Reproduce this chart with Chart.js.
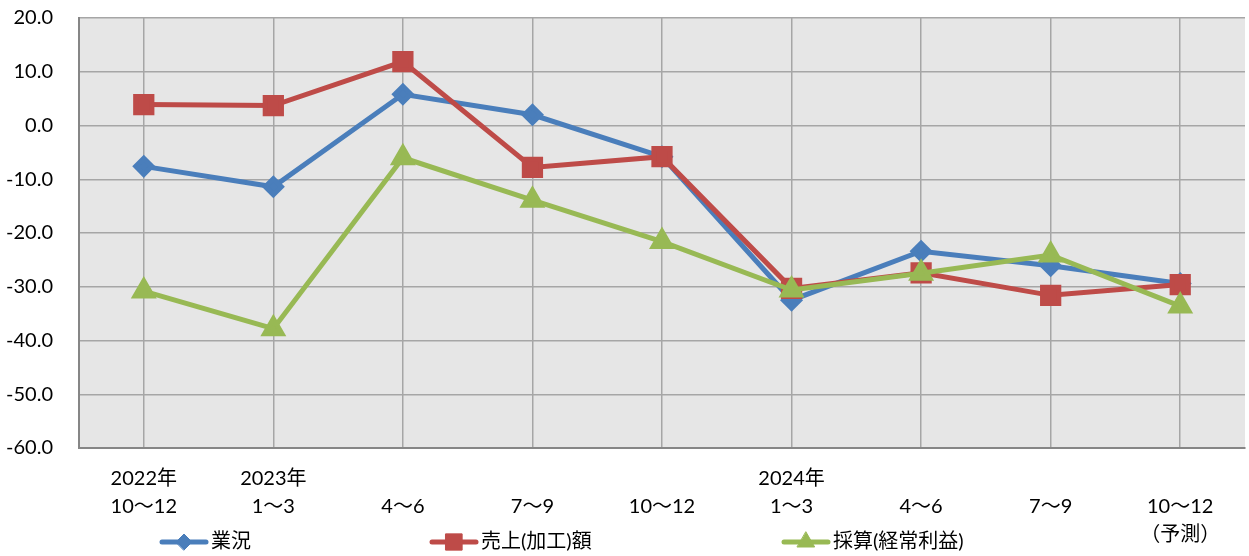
<!DOCTYPE html>
<html>
<head>
<meta charset="utf-8">
<script src="https://cdn.jsdelivr.net/npm/chart.js@4"></script>
<style>
  html, body { margin: 0; padding: 0; background: #fff; }
</style>
</head>
<body>
<canvas id="grafica" width="1249" height="556"></canvas>
<script>
// categorias del eje x (varias lineas por etiqueta)
const categorias = [
  ["2022年", "10～12"],
  ["2023年", "1～3"],
  ["", "4～6"],
  ["", "7～9"],
  ["", "10～12"],
  ["2024年", "1～3"],
  ["", "4～6"],
  ["", "7～9"],
  ["", "10～12", "（予測）"]
];
const nombresSeries = ["業況", "売上(加工)額", "採算(経常利益)"];
const gyokyo = [-7.6, -11.4, 5.8, 2.0, -5.8, -32.5, -23.4, -26.1, -29.4];
const uriage = [3.9, 3.7, 11.9, -7.8, -5.8, -30.3, -27.4, -31.6, -29.6];
const saisan = [-30.8, -37.8, -6.0, -13.9, -21.6, -30.6, -27.5, -24.1, -33.6];
const ejeY = { min: -60, max: 20, paso: 10 };

const fuente = "Lato, 'Noto Sans CJK JP', sans-serif";

// fondo gris del area del grafico
const fondoPlot = {
  id: "fondoPlot",
  beforeDraw(chart) {
    const { ctx, chartArea: a } = chart;
    ctx.save();
    ctx.fillStyle = "#e6e6e6";
    ctx.fillRect(a.left, a.top, a.right - a.left, a.bottom - a.top);
    ctx.restore();
  }
};

// leyenda propia: va en la misma franja que la ultima fila de etiquetas
const leyenda = {
  id: "leyenda",
  afterDraw(chart) {
    const ctx = chart.ctx;
    const inicios = [160, 430, 782];
    const y = 542;
    ctx.save();
    ctx.font = "20px " + fuente;
    ctx.textBaseline = "middle";
    chart.data.datasets.forEach((ds, i) => {
      const x = inicios[i];
      ctx.strokeStyle = ds.borderColor;
      ctx.lineWidth = 5;
      ctx.lineCap = "round";
      ctx.beginPath();
      ctx.moveTo(x + 2, y);
      ctx.lineTo(x + 46, y);
      ctx.stroke();
      ctx.fillStyle = ds.backgroundColor;
      ctx.lineWidth = 1;
      Chart.helpers.drawPoint(ctx, { pointStyle: ds.pointStyle, radius: ds.pointRadius, borderWidth: 1, rotation: 0 }, x + 24, y);
      ctx.fillStyle = "#000";
      ctx.fillText(ds.label, x + 51, y);
    });
    ctx.restore();
  }
};

const grafico = document.querySelector("#grafica");
const chart = new Chart(grafico, {
  type: "line",
  data: {
    labels: categorias,
    datasets: [
      {
        label: nombresSeries[0],
        data: gyokyo,
        borderColor: "#4A7EBB",
        backgroundColor: "#4A7EBB",
        pointStyle: "rectRot",
        pointRadius: 8,
        borderWidth: 5,
        order: 2
      },
      {
        label: nombresSeries[1],
        data: uriage,
        borderColor: "#BE4B48",
        backgroundColor: "#BE4B48",
        pointStyle: "rect",
        pointRadius: 11.5,
        borderWidth: 5,
        order: 1
      },
      {
        label: nombresSeries[2],
        data: saisan,
        borderColor: "#98B954",
        backgroundColor: "#98B954",
        pointStyle: "triangle",
        pointRadius: 10,
        borderWidth: 5,
        order: 0
      }
    ]
  },
  options: {
    responsive: false,
    animation: false,
    events: [],
    layout: { autoPadding: false, padding: { top: 18, right: 4, left: 0, bottom: 0 } },
    elements: { line: { tension: 0 }, point: { borderWidth: 1 } },
    plugins: { legend: { display: false }, tooltip: { enabled: false } },
    scales: {
      x: {
        offset: true,
        grid: { color: "#a6a6a6", lineWidth: 1.5, drawTicks: false, offset: false },
        border: { color: "#868686", width: 2 },
        ticks: {
          color: "#000",
          font: { family: fuente, size: 20, lineHeight: 1.4 },
          padding: 17,
          maxRotation: 0,
          autoSkip: false
        },
        afterFit(scale) {
          scale.height = 108;
          scale.paddingLeft = 0;
          scale.paddingRight = 0;
        }
      },
      y: {
        min: ejeY.min,
        max: ejeY.max,
        grid: { color: "#a6a6a6", lineWidth: 1.5, drawTicks: false },
        border: { color: "#868686", width: 2 },
        ticks: {
          stepSize: ejeY.paso,
          color: "#000",
          font: { family: fuente, size: 20 },
          padding: 26,
          callback: (v) => v.toFixed(1)
        },
        afterFit(scale) {
          scale.width = 79;
          scale.paddingTop = 0;
          scale.paddingBottom = 0;
        }
      }
    }
  },
  plugins: [fondoPlot, leyenda]
});
</script>
</body>
</html>
